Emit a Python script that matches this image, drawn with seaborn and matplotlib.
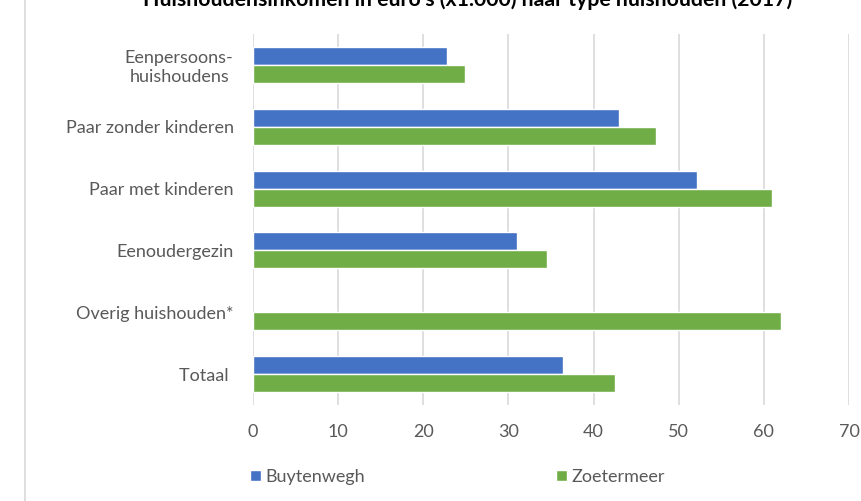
import numpy as np
import pandas as pd
import matplotlib.pyplot as plt
import seaborn as sns
from matplotlib.lines import Line2D
from matplotlib.patches import Patch

# data (income x 1.000 euro)
categories = ["Eenpersoons-\nhuishoudens", "Paar zonder kinderen", "Paar met kinderen",
              "Eenoudergezin", "Overig huishouden*", "Totaal "]
buytenwegh = [22.8, 43.0, 52.1, 31.0, np.nan, 36.4]
zoetermeer = [24.9, 47.3, 61.0, 34.5, 62.0, 42.5]
series = ["Buytenwegh", "Zoetermeer"]
colors = ["#4472C4", "#70AD47"]
xticks = [0, 10, 20, 30, 40, 50, 60, 70]
title = "Huishoudensinkomen in euro's (x1.000) naar type huishouden (2017)"

df = pd.DataFrame({
    "type": categories * 2,
    "inkomen": buytenwegh + zoetermeer,
    "gebied": [series[0]] * len(categories) + [series[1]] * len(categories),
})

sns.set_theme(style="white")
plt.rcParams['font.family'] = ['Lato', 'DejaVu Sans']

fig = plt.figure(figsize=(8.61, 5.01), dpi=100)
ax = fig.add_axes([253 / 861, 1 - 405 / 501, 596 / 861, 371 / 501])

sns.barplot(data=df, y="type", x="inkomen", hue="gebied", orient="h",
            palette=colors, width=0.58, saturation=1, ax=ax, legend=False,
            order=categories, hue_order=series)

ax.set_xlim(0, 70)
ax.set_xticks(xticks)
ax.set_xlabel("")
ax.set_ylabel("")
ax.xaxis.grid(True, color="#D9D9D9", linewidth=1.2)
ax.set_axisbelow(True)
for s in ax.spines.values():
    s.set_visible(False)
ax.tick_params(axis="x", length=0, pad=14, labelsize=13, labelcolor="#595959")
ax.tick_params(axis="y", length=0, pad=14, labelsize=13, labelcolor="#595959")
for lbl in ax.get_yticklabels():
    lbl.set_multialignment("center")

# legend at the bottom
handles = [Patch(facecolor=c, label=s) for c, s in zip(colors, series)]
fig.legend(handles=handles, loc="center left", bbox_to_anchor=(234 / 861, 1 - 477 / 501),
           ncol=2, frameon=False, fontsize=13, handlelength=0.61, handleheight=0.61,
           handletextpad=0.22, columnspacing=10.6, labelcolor="#595959")

# title, cut off at the top as in the source image
fig.text(468 / 861, 1 - 6 / 501, title, ha="center", va="baseline",
         fontsize=15.3, fontweight="bold", color="#000000")

# left frame edge
fig.add_artist(Line2D([25 / 861, 25 / 861], [0, 1], color="#D9D9D9", linewidth=1.2,
                      transform=fig.transFigure))

fig.savefig("out.png", dpi=100)
